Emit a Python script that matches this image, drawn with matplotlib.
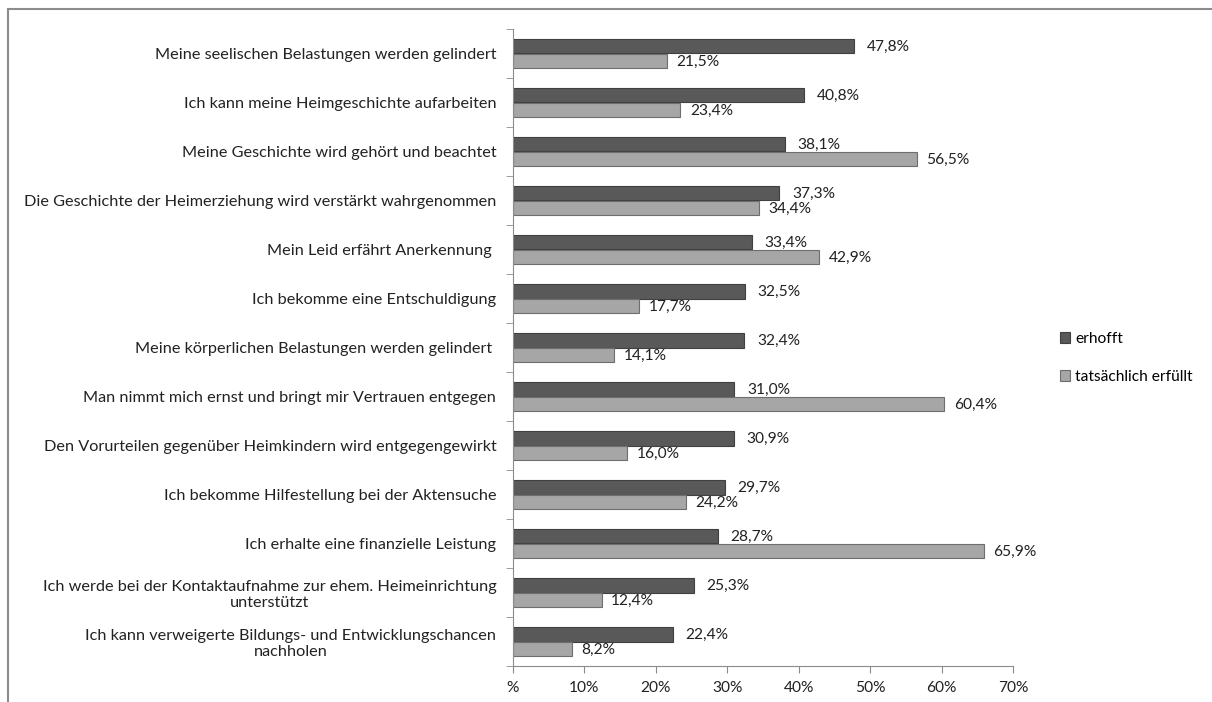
import matplotlib.pyplot as plt
from matplotlib.patches import Rectangle
import numpy as np

plt.rcParams['font.family'] = ['Lato', 'DejaVu Sans']

categories = [
    "Meine seelischen Belastungen werden gelindert",
    "Ich kann meine Heimgeschichte aufarbeiten",
    "Meine Geschichte wird gehört und beachtet",
    "Die Geschichte der Heimerziehung wird verstärkt wahrgenommen",
    "Mein Leid erfährt Anerkennung ",
    "Ich bekomme eine Entschuldigung",
    "Meine körperlichen Belastungen werden gelindert ",
    "Man nimmt mich ernst und bringt mir Vertrauen entgegen",
    "Den Vorurteilen gegenüber Heimkindern wird entgegengewirkt",
    "Ich bekomme Hilfestellung bei der Aktensuche",
    "Ich erhalte eine finanzielle Leistung",
    "Ich werde bei der Kontaktaufnahme zur ehem. Heimeinrichtung\nunterstützt",
    "Ich kann verweigerte Bildungs- und Entwicklungschancen\nnachholen",
]
erhofft = [47.8, 40.8, 38.1, 37.3, 33.4, 32.5, 32.4, 31.0, 30.9, 29.7, 28.7, 25.3, 22.4]
erfuellt = [21.5, 23.4, 56.5, 34.4, 42.9, 17.7, 14.1, 60.4, 16.0, 24.2, 65.9, 12.4, 8.2]
xticks = [0, 10, 20, 30, 40, 50, 60, 70]
xticklabels = ["%", "10%", "20%", "30%", "40%", "50%", "60%", "70%"]

fs = 11.7

fig = plt.figure(figsize=(12.12, 7.02), dpi=100)
fig.patches.append(Rectangle((8 / 1212, -0.1), 1.2, 1 - 9 / 702 + 0.1,
                             transform=fig.transFigure, fill=False,
                             edgecolor='#8c8c8c', linewidth=1.5))
ax = fig.add_axes([513 / 1212, 1 - 666 / 702, 500 / 1212, (666 - 29) / 702])

n = len(categories)
y = np.arange(n)
h = 0.29
ax.barh(y - h / 2, erhofft, height=h, color='#595959',
        edgecolor='#404040', linewidth=0.8, label='erhofft')
ax.barh(y + h / 2, erfuellt, height=h, color='#a6a6a6',
        edgecolor='#6e6e6e', linewidth=0.8, label='tatsächlich erfüllt')

for yy, v in zip(y, erhofft):
    ax.annotate(f"{v:.1f}%".replace('.', ','), (v, yy - h / 2), xytext=(9, 0),
                textcoords='offset points', va='center', ha='left',
                fontsize=fs - 0.5, color='#222222')
for yy, v in zip(y, erfuellt):
    ax.annotate(f"{v:.1f}%".replace('.', ','), (v, yy + h / 2), xytext=(7, -1),
                textcoords='offset points', va='center', ha='left',
                fontsize=fs - 0.5, color='#222222')

ax.set_ylim(n - 0.5, -0.5)
ax.set_xlim(0, 70)
ax.set_xticks(xticks)
ax.set_xticklabels(xticklabels, fontsize=fs - 0.5, color='#222222')
ax.set_yticks(y)
ax.set_yticklabels(categories, fontsize=fs, color='#222222')
for lab in ax.get_yticklabels():
    lab.set_multialignment('center')
ax.set_yticks(np.arange(n + 1) - 0.5, minor=True)
ax.tick_params(axis='y', which='major', length=0, pad=12)
ax.tick_params(axis='y', which='minor', length=5, color='#8c8c8c', direction='out')
ax.tick_params(axis='x', length=5, color='#8c8c8c', pad=6)

for s in ['top', 'right']:
    ax.spines[s].set_visible(False)
for s in ['left', 'bottom']:
    ax.spines[s].set_color('#8c8c8c')

ax.legend(loc='center left', bbox_to_anchor=(1.065, 0.483), frameon=False,
          fontsize=fs - 0.5, handlelength=0.7, handleheight=0.7,
          handletextpad=0.3, labelspacing=1.55)

plt.savefig("out.png", dpi=100)
